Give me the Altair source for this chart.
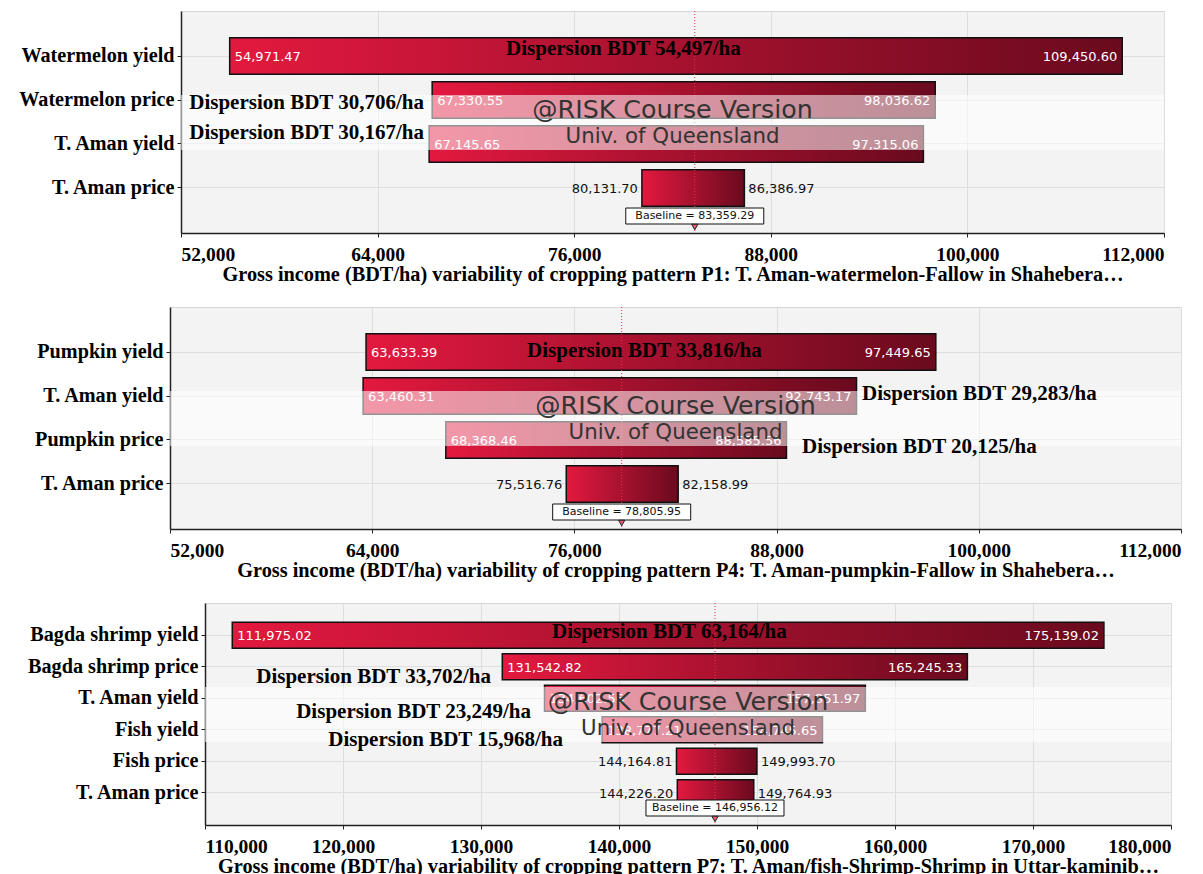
import altair as alt
import pandas as pd

SERIF = "Liberation Serif"
SANS = "DejaVu Sans"
H = 222

# ---------------- data ----------------
# Panel P1
cats1 = ["Watermelon yield", "Watermelon price", "T. Aman yield", "T. Aman price"]
low1 = [54971.47, 67330.55, 67145.65, 80131.70]
high1 = [109450.60, 98036.62, 97315.06, 86386.97]
base1 = 83359.29
title1 = "Gross income (BDT/ha) variability of cropping pattern P1: T. Aman-watermelon-Fallow in Shahebera\u2026"
ann1_text = ["Dispersion BDT 54,497/ha", "Dispersion BDT 30,706/ha", "Dispersion BDT 30,167/ha"]
ann1_row = ["Watermelon yield", "Watermelon price", "T. Aman yield"]
ann1_x = [71840, 66830, 66830]
ann1_align = ["left", "right", "right"]
ann1_dy = [-7, 3, -11]

# Panel P4
cats2 = ["Pumpkin yield", "T. Aman yield", "Pumpkin price", "T. Aman price"]
low2 = [63633.39, 63460.31, 68368.46, 75516.76]
high2 = [97449.65, 92743.17, 88585.56, 82158.99]
base2 = 78805.95
title2 = "Gross income (BDT/ha) variability of cropping pattern P4: T. Aman-pumpkin-Fallow in Shahebera\u2026"
ann2_text = ["Dispersion BDT 33,816/ha", "Dispersion BDT 29,283/ha", "Dispersion BDT 20,125/ha"]
ann2_row = ["Pumpkin yield", "T. Aman yield", "Pumpkin price"]
ann2_x = [73190, 93070, 89510]
ann2_align = ["left", "left", "left"]
ann2_dy = [-1, -2, 7]

# Panel P7
cats3 = ["Bagda shrimp yield", "Bagda shrimp price", "T. Aman yield", "Fish yield", "Fish price", "T. Aman price"]
low3 = [111975.02, 131542.82, 134602.56, 138777.21, 144164.81, 144226.20]
high3 = [175139.02, 165245.33, 157851.97, 154745.65, 149993.70, 149764.93]
base3 = 146956.12
title3 = "Gross income (BDT/ha) variability of cropping pattern P7: T. Aman/fish-Shrimp-Shrimp in Uttar-kaminib\u2026"
ann3_text = ["Dispersion BDT 63,164/ha", "Dispersion BDT 33,702/ha", "Dispersion BDT 23,249/ha", "Dispersion BDT 15,968/ha"]
ann3_row = ["Bagda shrimp yield", "Bagda shrimp price", "T. Aman yield", "Fish yield"]
ann3_x = [135145, 130725, 133620, 135940]
ann3_align = ["left", "right", "right", "right"]
ann3_dy = [-3, 10, 14, 10]

GRAD = alt.Gradient(
    gradient="linear",
    stops=[alt.GradientStop(color="#e3193f", offset=0), alt.GradientStop(color="#6a0a1e", offset=1)],
    x1=0, x2=1, y1=0, y2=0,
)


def make_panel(cats, lows, highs, base, domain, step, title, anns, width, extent):
    df = pd.DataFrame({"cat": cats, "low": lows, "high": highs})
    span = domain[1] - domain[0]
    df["inside"] = (df["high"] - df["low"]) / span > 0.15
    xs = alt.Scale(domain=list(domain), nice=False, zero=False)
    ys = alt.Scale(domain=cats, paddingInner=0.17, paddingOuter=0.61)
    xaxis = alt.Axis(values=list(range(domain[0], domain[1] + 1, step)), format=",.0f", title=title,
                     grid=True, labelPadding=8, titlePadding=1, tickSize=4, titleLimit=2000)
    yaxis = alt.Axis(title=None, grid=True, bandPosition=0.5, tickSize=4, labelPadding=3,
                     minExtent=extent, maxExtent=extent, labelLimit=400)

    def X(f):
        return alt.X(f, scale=xs, axis=xaxis)

    Y = alt.Y("cat:N", scale=ys, axis=yaxis)

    layers = []
    layers.append(alt.Chart(df).mark_bar(color=GRAD, stroke="#111", strokeWidth=1.5).encode(
        x=X("low:Q"), x2="high:Q", y=Y))

    bdf = pd.DataFrame({"b": [base], "lab": ["Baseline = " + format(base, ",.2f")]})
    layers.append(alt.Chart(bdf).mark_rule(color="#e8304f", strokeDash=[1, 2], strokeWidth=1).encode(
        x=X("b:Q"), y=alt.value(0), y2=alt.value(H)))

    rows = []
    for c, lo, hi, ins in zip(df["cat"], df["low"], df["high"], df["inside"]):
        rows.append({"cat": c, "v": lo, "side": "low", "inside": bool(ins)})
        rows.append({"cat": c, "v": hi, "side": "high", "inside": bool(ins)})
    ldf = pd.DataFrame(rows)
    specs = [
        (True, "low", "left", 5, "white"),
        (True, "high", "right", -5, "white"),
        (False, "low", "right", -4, "#111"),
        (False, "high", "left", 4, "#111"),
    ]
    for ins, side, al, dx, col in specs:
        sub = ldf[(ldf["inside"] == ins) & (ldf["side"] == side)]
        if len(sub) == 0:
            continue
        layers.append(alt.Chart(sub).mark_text(font=SANS, fontSize=13, align=al, dx=dx, dy=1, color=col).encode(
            x=X("v:Q"), y=Y, text=alt.Text("v:Q", format=",.2f")))

    layers.append(alt.Chart(pd.DataFrame({"k": [0]})).mark_rect(color="white", opacity=0.55).encode(
        x=alt.value(0), x2=alt.value(width), y=alt.value(H / 2 - 27), y2=alt.value(H / 2 + 28)))
    layers.append(alt.Chart(pd.DataFrame({"t": ["@RISK Course Version"]})).mark_text(
        font=SANS, fontSize=25.3, color="#333333").encode(x=alt.value(width / 2), y=alt.value(H / 2 - 12), text="t:N"))
    layers.append(alt.Chart(pd.DataFrame({"t": ["Univ. of Queensland"]})).mark_text(
        font=SANS, fontSize=21.3, color="#333333").encode(x=alt.value(width / 2), y=alt.value(H / 2 + 15), text="t:N"))

    layers.append(alt.Chart(bdf).mark_rect(fill="white", stroke="#111", strokeWidth=1, xOffset=-69, x2Offset=69).encode(
        x=X("b:Q"), x2="b:Q", y=alt.value(H - 25), y2=alt.value(H - 9)))
    layers.append(alt.Chart(bdf).mark_text(font=SANS, fontSize=11, color="#111").encode(
        x=X("b:Q"), y=alt.value(H - 17), text="lab:N"))
    layers.append(alt.Chart(bdf).mark_point(shape="triangle-down", filled=True, fill="#ee5a74", stroke="#222",
                                           strokeWidth=1, size=40, opacity=1).encode(x=X("b:Q"), y=alt.value(H - 6)))

    for txt, row, xv, al, dy in zip(*anns):
        adf = pd.DataFrame({"cat": [row], "x": [xv], "t": [txt]})
        layers.append(alt.Chart(adf).mark_text(font=SERIF, fontWeight="bold", fontSize=21, align=al, dy=dy,
                                               color="black").encode(x=X("x:Q"), y=Y, text="t:N"))

    return alt.layer(*layers).properties(width=width, height=H)


def spacer():
    return alt.Chart(pd.DataFrame({"k": [0]})).mark_rect(opacity=0, strokeWidth=0).encode(
        x=alt.value(0), x2=alt.value(1), y=alt.value(0), y2=alt.value(1)
    ).properties(width=1, height=1, view=alt.ViewBackground(fill="transparent", stroke="transparent"))


p1 = make_panel(cats1, low1, high1, base1, (52000, 112000), 12000, title1,
                (ann1_text, ann1_row, ann1_x, ann1_align, ann1_dy), 983, 164)
p2 = make_panel(cats2, low2, high2, base2, (52000, 112000), 12000, title2,
                (ann2_text, ann2_row, ann2_x, ann2_align, ann2_dy), 1011, 153)
p3 = make_panel(cats3, low3, high3, base3, (110000, 180000), 10000, title3,
                (ann3_text, ann3_row, ann3_x, ann3_align, ann3_dy), 966, 188)

rows = [alt.hconcat(spacer(), p, spacing=0) for p in (p1, p2, p3)]

chart = alt.vconcat(*rows, spacing=20).properties(
    padding={"left": 5, "top": 2, "right": 0, "bottom": 0}
).configure_view(fill="#f3f3f3", stroke="#d6d6d6").configure_axis(
    labelFont=SERIF, labelFontWeight="bold", labelFontSize=19.5, labelColor="black",
    titleFont=SERIF, titleFontWeight="bold", titleFontSize=20.3, titleColor="black",
    domainColor="#222", domainWidth=1.5, tickColor="#222", gridColor="#dedede",
).configure_axisY(labelFontSize=20.2)

chart.save("out.html", embed_options={"renderer": "svg", "actions": False})
